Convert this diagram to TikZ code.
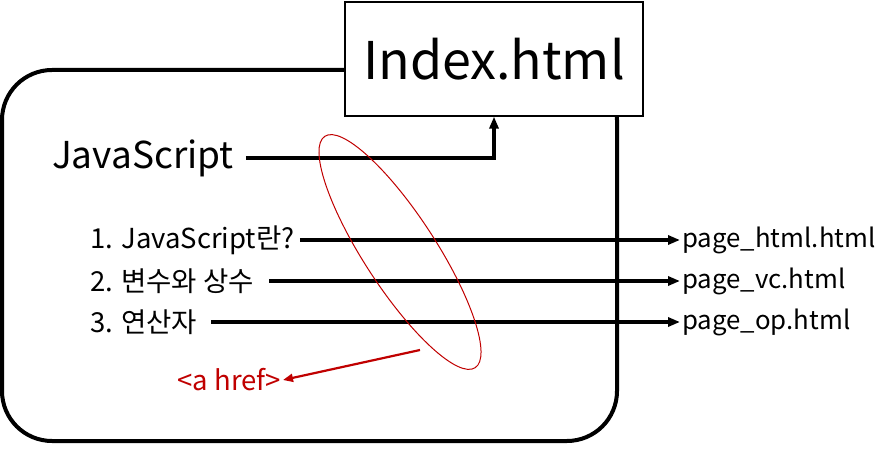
\documentclass[tikz,border=0pt]{standalone}
\usepackage{fontspec}
\setmainfont{Noto Sans CJK KR}
\usetikzlibrary{arrows.meta,positioning,calc}
\definecolor{linkred}{RGB}{192,0,0}
\tikzset{
  frame/.style={draw=black, line width=4pt, rounded corners=50pt},
  pagebox/.style={draw=black, line width=1.2pt, fill=white,
                  minimum width=298pt, minimum height=114pt,
                  font=\fontsize{52}{60}\selectfont},
  head/.style={font=\fontsize{37}{42}\selectfont, inner sep=2pt},
  item/.style={font=\fontsize{27.5}{32}\selectfont, anchor=west, inner sep=2pt},
  target/.style={font=\fontsize{25.8}{30}\selectfont, anchor=west, inner sep=2pt},
  flow/.style={-{Triangle[length=12pt,width=9pt]}, line width=3.5pt, black},
  linkflow/.style={-{Triangle[length=10pt,width=8pt]}, line width=2.2pt, linkred},
}
\begin{document}
\begin{tikzpicture}[x=1pt,y=1pt]
\useasboundingbox (0,0) rectangle (893,460);

% ---------------------------------------------------------------- frame
\draw[frame] (2,390) rectangle (617,19);

% ---------------------------------------------------------------- page
\node[pagebox] (index) at (494,401) {Index.html};

% ---------------------------------------------------------------- menu
\node[head, anchor=west] (js) at (50,302) {JavaScript};
\draw[flow] ([xshift=10pt]js.east) -| (index.south);

\node[item] (m1) at (88,220) {1. JavaScript란?};
\node[item] (m2) at (88,179) {2. 변수와 상수};
\node[item] (m3) at (88,138) {3. 연산자};

% ---------------------------------------------------------------- targets
\node[target] (p1) at (680,220) {page\_html.html};
\node[target] (p2) at (680,179) {page\_vc.html};
\node[target] (p3) at (680,138) {page\_op.html};

\draw[flow] ([xshift=3pt]m1.east) -- (p1.west);
\draw[flow] ([xshift=13pt]m2.east) -- (p2.west);
\draw[flow] ([xshift=12pt]m3.east) -- (p3.west);

% ---------------------------------------------------------------- link mark
\draw[linkred, line width=1pt, rotate around={-57:(400,208)}]
  (400,208) ellipse (138 and 36);
\coordinate (mark) at (420,110);
\node[item, anchor=east, text=linkred] (href) at (283,80) {<a href>};
\draw[linkflow] (mark) -- (href.east);

\end{tikzpicture}
\end{document}
